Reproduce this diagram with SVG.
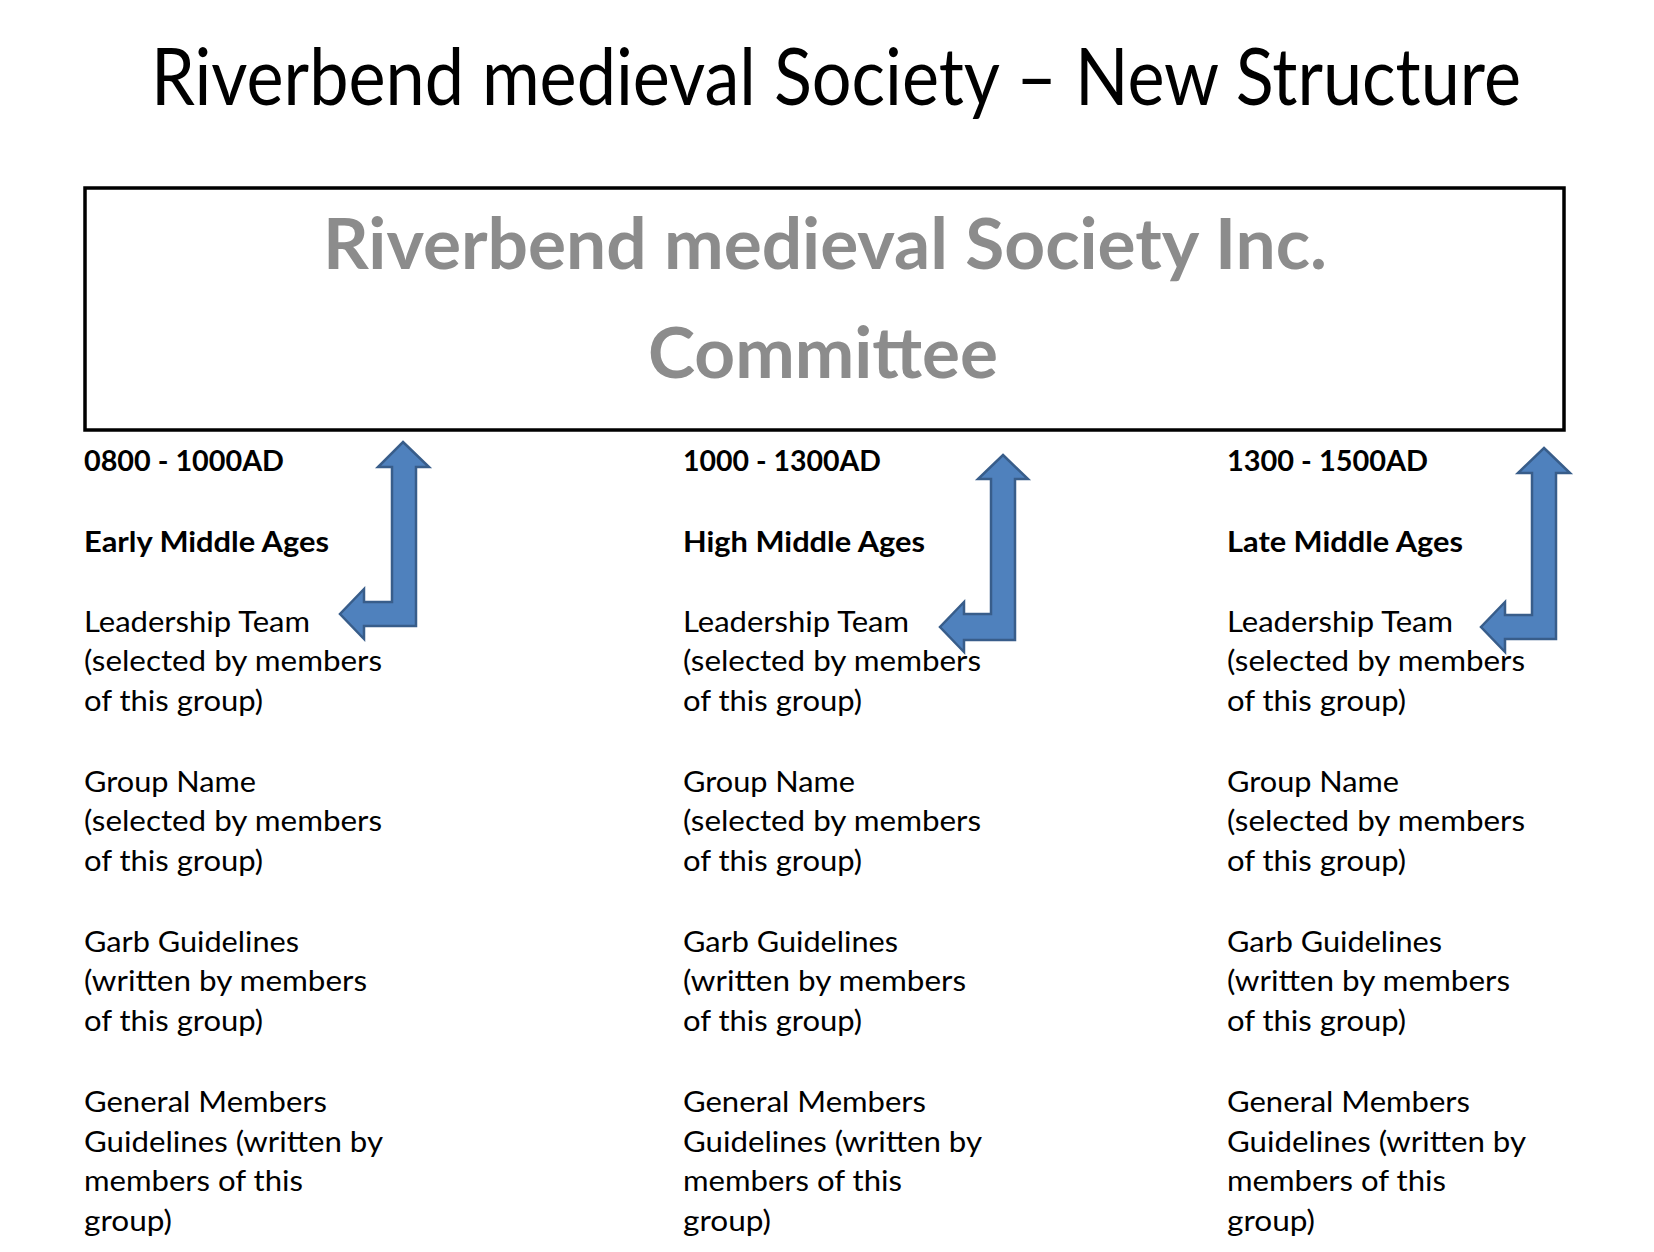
<svg xmlns="http://www.w3.org/2000/svg" width="1654" height="1252" viewBox="0 0 1654 1252">
<style>
.t{font-family:Lato,"Open Sans","Liberation Sans",sans-serif;fill:#000}
.title{font-size:79px}
.sub{font-size:71px;font-weight:bold;fill:#8c8c8c}
.h{font-size:29px;font-weight:bold}
.r{font-size:29.5px}
.arrow{fill:#4F81BD;stroke:#385D8A;stroke-width:2.5;stroke-linejoin:miter}
</style>
<rect width="1654" height="1252" fill="#fff"/>
<g id="title">
<text class="t title" x="151" y="105" textLength="1370" lengthAdjust="spacingAndGlyphs">Riverbend medieval Society – New Structure</text>
</g>
<g id="committee">
<rect x="85" y="188" width="1479" height="242" fill="#fff" stroke="#000" stroke-width="3.5"/>
<text class="t sub" x="323" y="269" textLength="1004" lengthAdjust="spacingAndGlyphs">Riverbend medieval Society Inc.</text>
<text class="t sub" x="648" y="378" textLength="350" lengthAdjust="spacingAndGlyphs">Committee</text>
</g>
<g id="col-early">
<text class="t h" x="84" y="471" textLength="200" lengthAdjust="spacingAndGlyphs">0800 - 1000AD</text>
<text class="t h" x="84" y="552" textLength="245" lengthAdjust="spacingAndGlyphs">Early Middle Ages</text>
<text class="t r" x="84" y="632" textLength="226" lengthAdjust="spacingAndGlyphs">Leadership Team</text>
<text class="t r" x="84" y="671" textLength="298" lengthAdjust="spacingAndGlyphs">(selected by members</text>
<text class="t r" x="84" y="711" textLength="179" lengthAdjust="spacingAndGlyphs">of this group)</text>
<text class="t r" x="84" y="792" textLength="172" lengthAdjust="spacingAndGlyphs">Group Name</text>
<text class="t r" x="84" y="831" textLength="298" lengthAdjust="spacingAndGlyphs">(selected by members</text>
<text class="t r" x="84" y="871" textLength="179" lengthAdjust="spacingAndGlyphs">of this group)</text>
<text class="t r" x="84" y="952" textLength="215" lengthAdjust="spacingAndGlyphs">Garb Guidelines</text>
<text class="t r" x="84" y="991" textLength="283" lengthAdjust="spacingAndGlyphs">(written by members</text>
<text class="t r" x="84" y="1031" textLength="179" lengthAdjust="spacingAndGlyphs">of this group)</text>
<text class="t r" x="84" y="1112" textLength="243" lengthAdjust="spacingAndGlyphs">General Members</text>
<text class="t r" x="84" y="1152" textLength="299" lengthAdjust="spacingAndGlyphs">Guidelines (written by</text>
<text class="t r" x="84" y="1191" textLength="219" lengthAdjust="spacingAndGlyphs">members of this</text>
<text class="t r" x="84" y="1231" textLength="88" lengthAdjust="spacingAndGlyphs">group)</text>
</g>
<g id="col-high">
<text class="t h" x="683" y="471" textLength="198" lengthAdjust="spacingAndGlyphs">1000 - 1300AD</text>
<text class="t h" x="683" y="552" textLength="242" lengthAdjust="spacingAndGlyphs">High Middle Ages</text>
<text class="t r" x="683" y="632" textLength="226" lengthAdjust="spacingAndGlyphs">Leadership Team</text>
<text class="t r" x="683" y="671" textLength="298" lengthAdjust="spacingAndGlyphs">(selected by members</text>
<text class="t r" x="683" y="711" textLength="179" lengthAdjust="spacingAndGlyphs">of this group)</text>
<text class="t r" x="683" y="792" textLength="172" lengthAdjust="spacingAndGlyphs">Group Name</text>
<text class="t r" x="683" y="831" textLength="298" lengthAdjust="spacingAndGlyphs">(selected by members</text>
<text class="t r" x="683" y="871" textLength="179" lengthAdjust="spacingAndGlyphs">of this group)</text>
<text class="t r" x="683" y="952" textLength="215" lengthAdjust="spacingAndGlyphs">Garb Guidelines</text>
<text class="t r" x="683" y="991" textLength="283" lengthAdjust="spacingAndGlyphs">(written by members</text>
<text class="t r" x="683" y="1031" textLength="179" lengthAdjust="spacingAndGlyphs">of this group)</text>
<text class="t r" x="683" y="1112" textLength="243" lengthAdjust="spacingAndGlyphs">General Members</text>
<text class="t r" x="683" y="1152" textLength="299" lengthAdjust="spacingAndGlyphs">Guidelines (written by</text>
<text class="t r" x="683" y="1191" textLength="219" lengthAdjust="spacingAndGlyphs">members of this</text>
<text class="t r" x="683" y="1231" textLength="88" lengthAdjust="spacingAndGlyphs">group)</text>
</g>
<g id="col-late">
<text class="t h" x="1227" y="471" textLength="201" lengthAdjust="spacingAndGlyphs">1300 - 1500AD</text>
<text class="t h" x="1227" y="552" textLength="236" lengthAdjust="spacingAndGlyphs">Late Middle Ages</text>
<text class="t r" x="1227" y="632" textLength="226" lengthAdjust="spacingAndGlyphs">Leadership Team</text>
<text class="t r" x="1227" y="671" textLength="298" lengthAdjust="spacingAndGlyphs">(selected by members</text>
<text class="t r" x="1227" y="711" textLength="179" lengthAdjust="spacingAndGlyphs">of this group)</text>
<text class="t r" x="1227" y="792" textLength="172" lengthAdjust="spacingAndGlyphs">Group Name</text>
<text class="t r" x="1227" y="831" textLength="298" lengthAdjust="spacingAndGlyphs">(selected by members</text>
<text class="t r" x="1227" y="871" textLength="179" lengthAdjust="spacingAndGlyphs">of this group)</text>
<text class="t r" x="1227" y="952" textLength="215" lengthAdjust="spacingAndGlyphs">Garb Guidelines</text>
<text class="t r" x="1227" y="991" textLength="283" lengthAdjust="spacingAndGlyphs">(written by members</text>
<text class="t r" x="1227" y="1031" textLength="179" lengthAdjust="spacingAndGlyphs">of this group)</text>
<text class="t r" x="1227" y="1112" textLength="243" lengthAdjust="spacingAndGlyphs">General Members</text>
<text class="t r" x="1227" y="1152" textLength="299" lengthAdjust="spacingAndGlyphs">Guidelines (written by</text>
<text class="t r" x="1227" y="1191" textLength="219" lengthAdjust="spacingAndGlyphs">members of this</text>
<text class="t r" x="1227" y="1231" textLength="88" lengthAdjust="spacingAndGlyphs">group)</text>
</g>
<g id="connectors">
<path class="arrow" d="M403,442 L429,467 L416,467 L416,626 L364,626 L364,639 L340,614 L364,589 L364,602 L392,602 L392,467 L378,467 Z"/>
<path class="arrow" d="M1003,455 L1028,479 L1015,479 L1015,640 L964,640 L964,652 L940,627 L964,602 L964,614 L991,614 L991,479 L978,479 Z"/>
<path class="arrow" d="M1544,448 L1570,473 L1556,473 L1556,639 L1505,639 L1505,652 L1481,627 L1505,602 L1505,615 L1532,615 L1532,473 L1518,473 Z"/>
</g>
</svg>
